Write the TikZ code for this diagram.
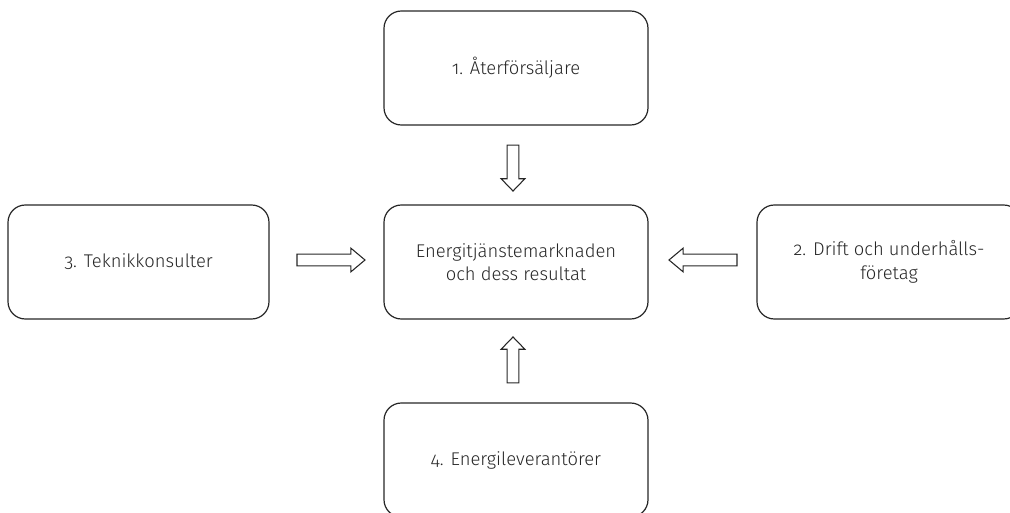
\documentclass[tikz,border=0pt]{standalone}
\usepackage{fontspec}
\setmainfont{Fira Sans}[UprightFont=* Light, Numbers=OldStyle]
\usepackage{tikz}
\usetikzlibrary{positioning,calc,shapes.arrows}

\begin{document}
\begin{tikzpicture}[x=0.75pt,y=0.75pt,yscale=-1,xscale=1,
  box/.style={draw=black!85, line width=0.9pt, rounded corners=13pt,
    minimum width=198pt, minimum height=85.5pt, inner sep=0pt, align=center,
    font=\fontsize{13.8}{17.5}\selectfont, text=black!85},
  blockarrow/.style={single arrow, draw=black!85, line width=0.8pt,
    inner xsep=0pt, inner ysep=4pt, single arrow head extend=4.5pt,
    single arrow tip angle=80, single arrow head indent=0pt},
  uprightarrow/.style={blockarrow, inner xsep=4pt, inner ysep=0pt,
    single arrow tip angle=88}]
        %set diagram left start at 0, and has height of 513
        \useasboundingbox (0,0) rectangle (1010,513);

        %Shape: Rounded Rectangle [retail]
        \node [box] (retail) at (516,68) {1. Återförsäljare};
        %Shape: Rounded Rectangle [market]
        \node [box] (market) at (516,262) {Energitjänstemarknaden\\och dess resultat};
        %Shape: Rounded Rectangle [consult]
        \node [box, minimum width=195.75pt] (consult) at (138.5,262) {3. Teknikkonsulter};
        %Shape: Rounded Rectangle [service]
        \node [box] (service) at (889,262) {2. Drift och underhålls-\\företag};
        %Shape: Rounded Rectangle [supply]
        \node [box] (supply) at (516,460) {4. Energileverantörer};

        %Block Arrows
        \node [uprightarrow, minimum height=34.5pt, shape border rotate=270]
          (retailarrow) at ($(retail.south)!0.5!(market.north)+(-3,0)$) {};
        \node [uprightarrow, minimum height=34.5pt, shape border rotate=90]
          (supplyarrow) at ($(supply.north)!0.5!(market.south)+(-3,2)$) {};
        \node [blockarrow, minimum height=51pt, shape border rotate=0]
          (consultarrow) at ($(consult.east)!0.5!(market.west)+(1,-2)$) {};
        \node [blockarrow, minimum height=51pt, shape border rotate=180]
          (servicearrow) at ($(service.west)!0.5!(market.east)+(4,-2)$) {};
\end{tikzpicture}
\end{document}
